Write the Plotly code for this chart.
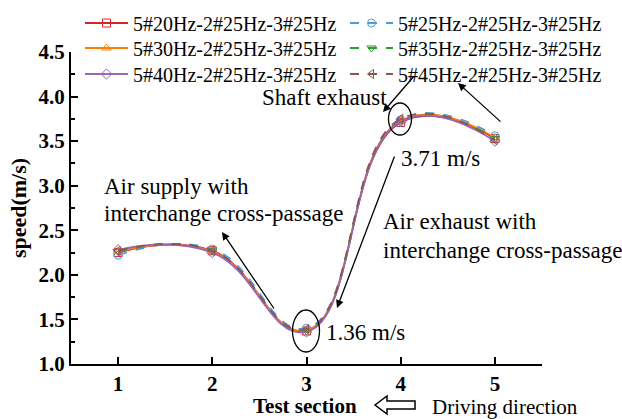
import plotly.graph_objects as go

sections = [1, 2, 3, 4, 5]
names = ["5#20Hz-2#25Hz-3#25Hz", "5#25Hz-2#25Hz-3#25Hz", "5#30Hz-2#25Hz-3#25Hz",
         "5#35Hz-2#25Hz-3#25Hz", "5#40Hz-2#25Hz-3#25Hz", "5#45Hz-2#25Hz-3#25Hz"]
s20 = [2.25, 2.27, 1.37, 3.71, 3.53]
s25 = [2.22, 2.29, 1.40, 3.74, 3.56]
s30 = [2.26, 2.26, 1.38, 3.73, 3.54]
s35 = [2.26, 2.27, 1.37, 3.72, 3.53]
s40 = [2.28, 2.25, 1.36, 3.72, 3.50]
s45 = [2.27, 2.27, 1.39, 3.75, 3.51]
series = [s20, s25, s30, s35, s40, s45]
colors = ["#d62728", "#4f9bd9", "#ff7f0e", "#2ca02c", "#9467bd", "#8c564b"]
symbols = ["square-open", "circle-open", "triangle-up-open", "triangle-down-open",
           "diamond-open", "triangle-left-open"]
dashes = ["solid", "dash", "solid", "dash", "solid", "dash"]

SERIF = "Liberation Serif"
W, H = 622, 419
L, R, T, B = 71, 80, 52, 55
PW, PH = W - L - R, H - T - B

fig = go.Figure()
leg_ids = ["legend"] + [f"legend{i}" for i in range(2, 7)]
for name, ys, c, sym, d, lg in zip(names, series, colors, symbols, dashes, leg_ids):
    fig.add_trace(go.Scatter(
        x=sections, y=ys, name=name, mode="lines+markers",
        line=dict(color=c, width=1.8, dash=d, shape="spline", smoothing=1.3),
        marker=dict(symbol=sym, size=8, color=c, line=dict(width=1, color=c)),
        legend=lg,
    ))

# legend slot positions (left px, row center px): two columns, three rows
leg_pos = [(80, 23), (345, 23), (80, 48), (345, 48), (80, 74), (345, 74)]
leg_layout = {}
for lg, (lx, ly) in zip(leg_ids, leg_pos):
    leg_layout[lg] = dict(orientation="h", xref="container", yref="container",
                          x=lx / W, y=1 - ly / H, xanchor="left", yanchor="middle",
                          bgcolor="rgba(0,0,0,0)", itemwidth=43,
                          font=dict(family=SERIF, size=20, color="black"))

fig.update_layout(
    width=W, height=H,
    margin=dict(l=L, r=R, t=T, b=B, autoexpand=False),
    paper_bgcolor="white", plot_bgcolor="white",
    xaxis=dict(range=[0.5, 5.5], tickvals=sections, ticktext=[str(s) for s in sections],
               showline=True, linecolor="black", linewidth=2, ticks="inside", ticklen=7,
               tickwidth=2, tickcolor="black", showgrid=False, zeroline=False,
               tickfont=dict(family=SERIF, size=21, color="black", weight="bold")),
    yaxis=dict(range=[1.0, 4.5], dtick=0.5, tick0=1.0, tickformat=".1f",
               showline=True, linecolor="black", linewidth=2, ticks="inside", ticklen=7,
               tickwidth=2, tickcolor="black", showgrid=False, zeroline=False,
               minor=dict(ticks="inside", ticklen=4, tickwidth=1.5, tickcolor="black", dtick=0.25),
               tickfont=dict(family=SERIF, size=21, color="black", weight="bold"),
               title=dict(text="speed(m/s)", standoff=6,
                          font=dict(family=SERIF, size=22, color="black", weight="bold"))),
    showlegend=True,
    **leg_layout,
)

def px2x(px):
    return 0.5 + (px - L) / (PW / 5.0)

def py2y(py):
    return 1.0 + (H - B - py) / (PH / 3.5)

def ppx(px):
    return (px - L) / PW

def ppy(py):
    return (H - B - py) / PH

txt = dict(family=SERIF, size=23, color="black")
for t, px, py, anc in [("Shaft exhaust", 260, 97, "left"),
                       ("3.71 m/s", 440, 158, "center"),
                       ("1.36 m/s", 365, 332, "center"),
                       ("Air supply with", 102, 186, "left"),
                       ("interchange cross-passage", 102, 213, "left"),
                       ("Air exhaust with", 381, 221, "left"),
                       ("interchange cross-passage", 381, 250, "left")]:
    fig.add_annotation(x=px2x(px), y=py2y(py), text=t, showarrow=False,
                       xanchor=anc, yanchor="middle", font=txt)

# arrows: (tail px, tail py, head px, head py)
for tx, ty, hx, hy in [(415, 75, 383, 112), (502, 123, 458, 83),
                       (395, 155, 337, 308), (275, 310, 222, 232)]:
    fig.add_annotation(x=px2x(hx), y=py2y(hy), ax=tx - hx, ay=ty - hy, text="",
                       showarrow=True, arrowhead=2, arrowsize=1.2, arrowwidth=1.3,
                       arrowcolor="black")

# ellipses
for cx, cy, w, h in [(306, 331, 27, 42), (400, 119, 23, 32)]:
    fig.add_shape(type="circle", xref="x", yref="y",
                  x0=px2x(cx - w / 2), x1=px2x(cx + w / 2),
                  y0=py2y(cy + h / 2), y1=py2y(cy - h / 2),
                  line=dict(color="black", width=1.3))

# bottom labels
fig.add_annotation(xref="paper", yref="paper", x=ppx(305), y=ppy(406),
                   text="Test section", showarrow=False, xanchor="center", yanchor="middle",
                   font=dict(family=SERIF, size=21, color="black", weight="bold"))
fig.add_annotation(xref="paper", yref="paper", x=ppx(430), y=ppy(407),
                   text="Driving direction", showarrow=False, xanchor="left", yanchor="middle",
                   font=dict(family=SERIF, size=21, color="black"))
# hollow direction arrow (decoration)
pts = [(375, 405), (387, 396), (387, 401), (415, 401), (415, 409), (387, 409), (387, 414)]
path = "M " + " L ".join(f"{ppx(a):.4f},{ppy(b):.4f}" for a, b in pts) + " Z"
fig.add_shape(type="path", xref="paper", yref="paper", path=path,
              line=dict(color="black", width=1.5), fillcolor="white")

fig.write_html("out.html")
